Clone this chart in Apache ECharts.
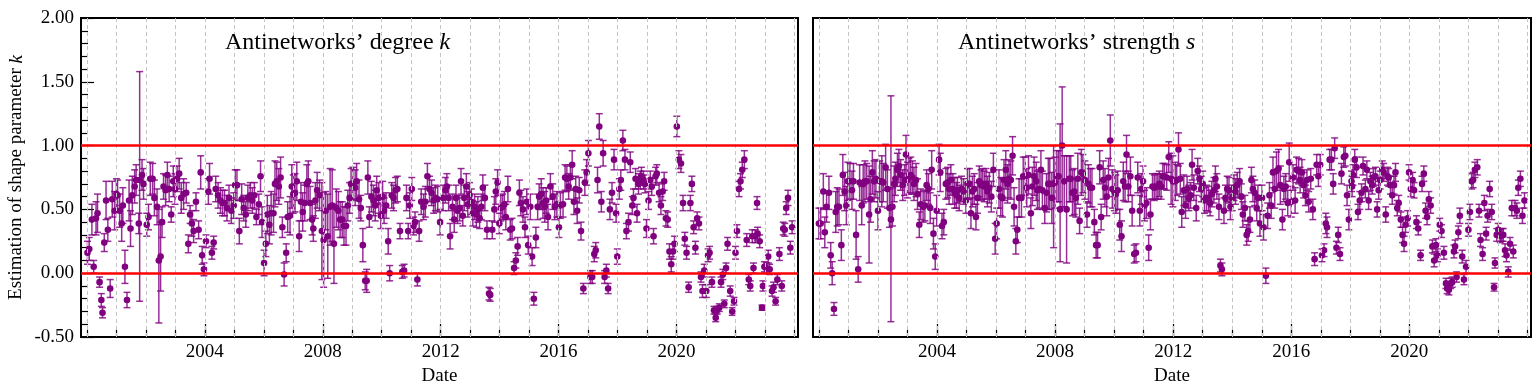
<!DOCTYPE html>
<html><head><meta charset="utf-8">
<script src="https://cdn.jsdelivr.net/npm/echarts@6/dist/echarts.min.js"></script>
<style>html,body{margin:0;padding:0;background:#fff}#c{width:1536px;height:387px}</style>
</head><body><div id="c"></div>
<script>
// ---------- tick labels / categories ----------
const yearTicks = [2000,2001,2002,2003,2004,2005,2006,2007,2008,2009,2010,2011,2012,2013,2014,2015,2016,2017,2018,2019,2020,2021,2022,2023,2024];
const labelYears = [2004,2008,2012,2016,2020];
const refLines = [0, 1];
const panelTitles = ['Antinetworks\u2019 degree ', 'Antinetworks\u2019 strength '];
const panelVars = ['k', 's'];

// ---------- left panel: antinetworks' degree k ----------
const degT = [
2000.02,2000.08,2000.17,2000.23,2000.31,2000.36,2000.43,2000.49,2000.53,2000.59,2000.65,2000.71,2000.79,2000.86,2000.94,
2001.00,2001.04,2001.11,2001.18,2001.22,2001.29,2001.36,2001.43,2001.48,2001.54,2001.62,2001.67,2001.76,2001.79,2001.87,2001.92,
2002.03,2002.09,2002.15,2002.23,2002.29,2002.38,2002.44,2002.50,2002.55,2002.60,2002.67,2002.73,2002.79,2002.86,2002.93,2002.99,
2003.06,2003.13,2003.20,2003.28,2003.37,2003.44,2003.50,2003.56,2003.62,2003.70,2003.79,2003.86,2003.91,2003.97,
2004.04,2004.12,2004.16,2004.24,2004.30,2004.37,2004.45,2004.53,2004.60,2004.67,2004.75,2004.82,2004.90,2004.98,
2005.03,2005.09,2005.17,2005.25,2005.32,2005.39,2005.46,2005.54,2005.61,2005.68,2005.75,2005.83,2005.89,2005.94,
2006.01,2006.07,2006.12,2006.19,2006.25,2006.33,2006.38,2006.44,2006.51,2006.57,2006.63,2006.69,2006.76,2006.81,2006.89,2006.95,
2007.00,2007.06,2007.12,2007.20,2007.26,2007.32,2007.39,2007.46,2007.51,2007.57,2007.64,2007.68,2007.75,2007.81,2007.89,2007.97,
2008.03,2008.10,2008.17,2008.25,2008.32,2008.38,2008.46,2008.53,2008.59,2008.66,2008.72,2008.79,2008.85,2008.91,2008.96,
2009.02,2009.10,2009.15,2009.23,2009.29,2009.36,2009.44,2009.49,2009.53,2009.58,2009.65,2009.72,2009.78,2009.83,2009.90,2009.97,
2010.03,2010.08,2010.15,2010.22,2010.27,2010.34,2010.40,2010.47,2010.53,2010.62,2010.70,2010.76,2010.84,2010.90,2010.95,
2011.02,2011.08,2011.13,2011.21,2011.27,2011.34,2011.42,2011.48,2011.55,2011.62,2011.69,2011.76,2011.82,2011.90,2011.98,
2012.08,2012.16,2012.21,2012.27,2012.32,2012.40,2012.46,2012.52,2012.57,2012.64,2012.69,2012.75,2012.80,2012.87,2012.92,2012.98,
2013.04,2013.09,2013.15,2013.21,2013.26,2013.32,2013.38,2013.43,2013.50,2013.57,2013.64,2013.68,2013.75,2013.82,2013.87,2013.93,2013.99,
2014.04,2014.10,2014.16,2014.21,2014.28,2014.36,2014.42,2014.49,2014.55,2014.61,2014.67,2014.72,2014.79,2014.86,2014.92,2014.97,
2015.04,2015.10,2015.16,2015.23,2015.29,2015.34,2015.41,2015.47,2015.53,2015.58,2015.64,2015.72,2015.80,2015.87,2015.94,
2016.01,2016.06,2016.15,2016.22,2016.28,2016.34,2016.40,2016.46,2016.52,2016.58,2016.63,2016.70,2016.76,2016.84,2016.89,2016.95,
2017.01,2017.08,2017.14,2017.21,2017.26,2017.32,2017.38,2017.45,2017.51,2017.56,2017.62,2017.68,2017.74,2017.81,2017.88,2017.95,2017.99,
2018.06,2018.11,2018.18,2018.25,2018.30,2018.37,2018.43,2018.50,2018.54,2018.61,2018.66,2018.71,2018.77,2018.81,2018.88,2018.93,2018.98,
2019.05,2019.11,2019.16,2019.22,2019.29,2019.33,2019.41,2019.47,2019.53,2019.58,2019.64,2019.70,2019.76,2019.82,2019.88,2019.93,
2020.01,2020.08,2020.15,2020.22,2020.28,2020.34,2020.41,2020.47,2020.52,2020.58,2020.64,2020.70,2020.76,2020.83,2020.88,2020.94,
2021.01,2021.07,2021.12,2021.20,2021.27,2021.33,2021.38,2021.45,2021.51,2021.57,2021.62,2021.68,2021.73,2021.82,2021.89,2021.95,
2022.00,2022.05,2022.12,2022.17,2022.23,2022.30,2022.38,2022.45,2022.50,2022.57,2022.61,2022.67,2022.73,2022.75,2022.82,2022.90,2022.93,2022.98,
2023.05,2023.11,2023.16,2023.24,2023.29,2023.36,2023.42,2023.49,2023.57,2023.62,2023.67,2023.72,2023.78,2023.86,2023.92
];
const degK = [
0.16,0.19,0.42,0.05,0.43,0.47,-0.07,-0.21,-0.31,0.24,0.57,0.34,-0.12,0.58,0.49,
0.62,0.61,0.49,0.39,0.53,0.05,-0.21,0.57,0.35,0.61,0.68,0.73,0.39,0.73,0.77,0.70,
0.38,0.44,0.74,0.74,0.59,0.52,0.10,0.13,0.40,0.68,0.65,0.77,0.66,0.46,0.72,0.66,
0.74,0.78,0.59,0.62,0.63,0.23,0.46,0.39,0.33,0.56,0.34,0.79,0.14,0.03,
0.25,0.64,0.74,0.16,0.24,0.66,0.61,0.57,0.55,0.55,0.51,0.59,0.49,0.53,
0.69,0.69,0.33,0.58,0.51,0.46,0.59,0.61,0.57,0.61,0.44,0.54,0.76,0.40,
0.08,0.23,0.46,0.38,0.47,0.47,0.70,0.72,0.68,0.75,0.36,-0.01,0.16,0.44,0.45,0.68,
0.62,0.63,0.72,0.29,0.56,0.48,0.55,0.70,0.72,0.55,0.42,0.35,0.57,0.65,0.61,0.33,
0.26,0.49,0.29,0.52,0.53,0.23,0.51,0.49,0.42,0.42,0.37,0.37,0.53,0.59,0.70,
0.70,0.67,0.72,0.58,0.51,0.22,-0.06,-0.06,0.75,0.44,0.60,0.57,0.53,0.65,0.59,0.45,
0.60,0.49,0.53,0.25,0.00,0.61,0.59,0.65,0.66,0.33,0.01,0.02,0.59,0.33,0.53,
0.66,0.37,0.40,-0.05,0.33,0.56,0.52,0.56,0.76,0.66,0.63,0.57,0.59,0.58,0.40,
0.59,0.65,0.68,0.59,0.29,0.52,0.42,0.59,0.49,0.51,0.72,0.45,0.59,0.68,0.54,0.61,
0.56,0.47,0.52,0.46,0.50,0.43,0.52,0.67,0.59,0.34,-0.16,-0.17,0.34,0.50,0.64,0.71,0.39,
0.51,0.52,0.54,0.44,0.66,0.34,0.35,0.04,0.10,0.21,0.63,0.55,0.50,0.36,0.56,0.22,
0.52,0.13,-0.20,0.28,0.52,0.60,0.62,0.55,0.52,0.57,0.44,0.68,0.60,0.52,0.54,
0.36,0.53,0.54,0.75,0.74,0.68,0.75,0.85,0.56,0.66,0.49,0.65,0.33,-0.12,0.71,0.79,
0.94,-0.03,-0.03,0.15,0.18,0.73,1.15,0.56,0.94,-0.03,0.02,-0.12,0.50,0.63,0.89,0.47,0.13,
0.66,0.73,1.04,0.89,0.33,0.40,0.87,0.53,0.59,0.74,0.47,0.70,0.73,0.76,0.73,0.70,0.35,
0.57,0.73,0.68,0.29,0.76,0.78,0.63,0.53,0.64,0.72,0.43,0.42,0.17,0.07,0.17,0.23,
1.15,0.89,0.86,0.55,0.27,0.16,-0.11,0.55,0.70,0.36,0.20,0.43,0.39,-0.03,-0.14,0.02,
-0.14,0.14,0.16,-0.07,-0.29,-0.35,-0.29,-0.27,-0.07,-0.01,-0.24,0.04,0.23,-0.14,-0.30,-0.22,
0.16,0.33,0.66,0.72,0.81,0.89,0.26,-0.05,-0.10,0.29,0.04,0.29,0.55,0.31,0.25,-0.27,-0.10,0.05,
0.04,0.13,0.03,-0.14,-0.11,-0.22,-0.05,0.15,-0.10,0.35,0.34,0.51,0.59,0.20,0.36
];
// error half-widths; [lower, upper] where asymmetric
const degErr = [
0.09,0.09,0.12,0.05,0.13,0.15,0.04,0.05,0.04,0.07,0.15,0.09,0.07,0.14,0.15,
0.12,0.12,0.13,0.14,0.14,0.13,0.06,0.16,0.14,0.15,0.13,0.12,0.08,[0.95,0.85],0.12,0.12,
0.09,0.1,0.13,0.12,0.14,0.14,[0.49,0.4],0.27,0.12,0.1,0.12,0.1,0.1,0.06,0.12,0.12,
0.1,0.12,0.12,0.12,0.08,0.07,0.07,0.1,0.09,0.07,0.07,0.13,0.07,0.05,
0.05,0.1,0.12,0.05,0.05,0.1,0.1,0.1,0.1,0.1,0.1,0.1,0.1,0.1,
0.12,0.12,0.1,0.12,0.1,0.1,0.1,0.1,0.1,0.1,0.06,0.08,0.12,0.12,
0.1,0.1,0.15,0.15,0.17,0.15,0.18,0.15,0.14,0.16,0.08,0.09,0.07,0.12,0.15,0.17,
0.15,0.15,0.15,0.12,0.15,0.15,0.14,0.15,0.16,0.13,0.12,0.1,0.14,0.14,0.12,0.38,
0.37,0.15,0.33,0.3,0.28,0.31,0.15,0.15,0.14,0.14,0.15,0.15,0.12,0.12,0.12,
0.13,0.14,0.14,0.15,0.1,0.13,0.07,0.09,0.13,0.08,0.12,0.12,0.12,0.11,0.12,0.1,
0.12,0.1,0.1,0.1,0.06,0.1,0.1,0.1,0.1,0.06,0.05,0.05,0.1,0.06,0.1,
0.09,0.07,0.08,0.05,0.08,0.1,0.1,0.12,0.1,0.1,0.1,0.1,0.1,0.1,0.1,
0.1,0.1,0.1,0.1,0.1,0.1,0.1,0.1,0.1,0.1,0.1,0.08,0.1,0.1,0.1,0.1,
0.1,0.1,0.1,0.1,0.1,0.08,0.1,0.1,0.1,0.07,0.05,0.05,0.07,0.1,0.1,0.1,0.08,
0.1,0.1,0.1,0.1,0.1,0.08,0.08,0.05,0.06,0.07,0.1,0.1,0.1,0.08,0.1,0.07,
0.1,0.07,0.05,0.08,0.1,0.1,0.12,0.12,0.12,0.1,0.1,0.1,0.1,0.1,0.1,
0.08,0.1,0.1,0.1,0.1,0.1,0.1,0.11,0.1,0.1,0.1,0.1,0.07,0.04,0.1,0.1,
0.1,0.05,0.05,0.06,0.06,0.1,0.1,0.08,0.1,0.05,0.05,0.04,0.08,0.08,0.08,0.07,0.06,
0.08,0.08,0.08,0.08,0.06,0.07,0.08,0.07,0.07,0.08,0.07,0.08,0.07,0.07,0.07,0.07,0.07,
0.07,0.07,0.07,0.06,0.07,0.07,0.07,0.07,0.07,0.07,0.06,0.06,0.06,0.06,0.06,0.06,
0.08,0.07,0.07,0.06,0.05,0.05,0.04,0.06,0.06,0.05,0.05,0.05,0.05,0.04,0.05,0.05,
0.05,0.05,0.05,0.04,0.03,0.03,0.03,0.03,0.04,0.04,0.03,0.04,0.05,0.04,0.03,0.03,
0.05,0.05,0.06,0.06,0.06,0.07,0.05,0.04,0.04,0.05,0.04,0.05,0.05,0.05,0.05,0.02,0.04,0.04,
0.04,0.05,0.04,0.04,0.04,0.03,0.04,0.05,0.04,0.05,0.05,0.05,0.06,0.05,0.05
];

// ---------- right panel: antinetworks' strength s ----------
const strT = [
2000.00,2000.06,2000.15,2000.20,2000.26,2000.34,2000.40,2000.45,2000.51,2000.57,2000.62,2000.68,2000.76,2000.81,2000.87,2000.93,2000.98,
2001.05,2001.12,2001.17,2001.26,2001.33,2001.38,2001.45,2001.50,2001.56,2001.62,2001.70,2001.75,2001.81,2001.87,2001.93,
2002.00,2002.06,2002.13,2002.18,2002.26,2002.32,2002.39,2002.44,2002.49,2002.55,2002.59,2002.66,2002.71,2002.77,2002.84,2002.90,2002.95,
2003.00,2003.05,2003.11,2003.17,2003.22,2003.29,2003.34,2003.40,2003.45,2003.53,2003.59,2003.65,2003.71,2003.77,2003.82,2003.88,2003.94,2003.99,
2004.07,2004.11,2004.17,2004.23,2004.30,2004.36,2004.41,2004.47,2004.54,2004.60,2004.66,2004.69,2004.75,2004.83,2004.90,2004.98,
2005.03,2005.10,2005.15,2005.20,2005.26,2005.32,2005.37,2005.43,2005.49,2005.54,2005.60,2005.66,2005.71,2005.77,2005.84,2005.91,2005.97,
2006.02,2006.10,2006.16,2006.22,2006.27,2006.33,2006.39,2006.44,2006.50,2006.56,2006.61,2006.67,2006.72,2006.78,2006.86,2006.92,2006.99,
2007.04,2007.10,2007.18,2007.23,2007.29,2007.36,2007.40,2007.46,2007.52,2007.57,2007.65,2007.71,2007.77,2007.82,2007.89,2007.95,
2008.00,2008.06,2008.12,2008.17,2008.24,2008.31,2008.39,2008.48,2008.53,2008.59,2008.65,2008.70,2008.77,2008.83,2008.89,2008.94,
2009.01,2009.08,2009.13,2009.19,2009.25,2009.33,2009.39,2009.44,2009.51,2009.56,2009.63,2009.69,2009.75,2009.81,2009.87,2009.94,
2010.01,2010.06,2010.12,2010.19,2010.25,2010.31,2010.37,2010.42,2010.48,2010.55,2010.61,2010.68,2010.74,2010.80,2010.87,2010.92,2010.98,
2011.03,2011.09,2011.17,2011.23,2011.30,2011.36,2011.42,2011.48,2011.53,2011.59,2011.65,2011.70,2011.78,2011.85,2011.93,2011.99,
2012.07,2012.12,2012.18,2012.24,2012.29,2012.36,2012.42,2012.47,2012.53,2012.59,2012.64,2012.70,2012.78,2012.83,2012.89,2012.95,
2013.00,2013.06,2013.13,2013.20,2013.25,2013.31,2013.38,2013.43,2013.48,2013.55,2013.60,2013.65,2013.72,2013.77,2013.83,2013.89,2013.94,
2014.00,2014.06,2014.11,2014.17,2014.25,2014.31,2014.36,2014.43,2014.49,2014.54,2014.60,2014.65,2014.70,2014.76,2014.83,2014.87,2014.94,
2015.01,2015.06,2015.14,2015.20,2015.26,2015.32,2015.38,2015.44,2015.50,2015.57,2015.63,2015.70,2015.75,2015.81,2015.88,2015.93,
2016.00,2016.06,2016.13,2016.18,2016.25,2016.30,2016.36,2016.42,2016.48,2016.53,2016.59,2016.66,2016.73,2016.79,2016.86,2016.92,2016.98,
2017.04,2017.11,2017.17,2017.21,2017.30,2017.36,2017.42,2017.47,2017.53,2017.59,2017.65,2017.70,2017.78,2017.83,2017.89,2017.95,
2018.04,2018.06,2018.09,2018.15,2018.21,2018.26,2018.32,2018.38,2018.43,2018.51,2018.56,2018.62,2018.68,2018.74,2018.78,2018.85,2018.91,2018.96,
2019.01,2019.08,2019.13,2019.20,2019.26,2019.30,2019.36,2019.42,2019.48,2019.53,2019.59,2019.64,2019.71,2019.77,2019.82,2019.87,2019.94,2019.99,
2020.05,2020.11,2020.16,2020.24,2020.30,2020.38,2020.43,2020.49,2020.55,2020.60,2020.66,2020.72,2020.78,2020.84,2020.90,2020.95,
2021.03,2021.09,2021.17,2021.24,2021.28,2021.34,2021.40,2021.45,2021.51,2021.55,2021.60,2021.66,2021.71,2021.79,2021.85,2021.92,
2022.00,2022.05,2022.11,2022.16,2022.22,2022.30,2022.36,2022.41,2022.48,2022.54,2022.60,2022.65,2022.72,2022.79,2022.87,2022.90,2022.96,
2023.01,2023.08,2023.13,2023.18,2023.24,2023.29,2023.35,2023.41,2023.47,2023.52,2023.58,2023.64,2023.69,2023.76,2023.83,2023.90
];
const strS = [
0.39,0.39,0.64,0.32,0.52,0.63,0.14,0.00,-0.28,0.48,0.52,0.52,0.22,0.77,0.64,0.53,0.72,
0.72,0.65,0.72,0.30,0.03,0.71,0.53,0.70,0.72,0.72,0.46,0.58,0.79,0.72,0.74,
0.49,0.72,0.72,0.71,0.83,0.66,0.51,0.42,0.52,0.70,0.74,0.81,0.84,0.77,0.69,0.73,0.93,
0.73,0.76,0.77,0.75,0.70,0.73,0.62,0.38,0.54,0.52,0.53,0.69,0.66,0.51,0.81,0.31,0.13,0.49,
0.89,0.79,0.37,0.40,0.70,0.71,0.66,0.73,0.66,0.63,0.61,0.65,0.59,0.66,0.64,0.57,
0.70,0.70,0.47,0.64,0.66,0.44,0.59,0.72,0.69,0.70,0.68,0.70,0.64,0.67,0.60,0.81,0.27,
0.39,0.66,0.60,0.59,0.73,0.81,0.70,0.74,0.73,0.92,0.52,0.25,0.34,0.59,0.59,0.76,0.76,
0.67,0.77,0.47,0.68,0.76,0.72,0.65,0.66,0.81,0.65,0.51,0.63,0.70,0.70,0.59,0.70,
0.71,0.76,0.76,0.50,1.00,0.72,0.50,0.74,0.74,0.63,0.64,0.59,0.74,0.41,0.79,0.78,
0.73,0.46,0.70,0.67,0.67,0.40,0.22,0.22,0.83,0.44,0.73,0.67,0.60,0.75,1.04,0.66,
0.64,0.62,0.65,0.38,0.29,0.72,0.68,0.93,0.68,0.76,0.49,0.15,0.16,0.75,0.49,0.66,0.72,
0.53,0.55,0.20,0.46,0.68,0.67,0.68,0.68,0.70,0.68,0.76,0.76,0.75,0.91,0.74,0.72,
0.72,0.73,0.97,0.74,0.48,0.65,0.53,0.66,0.59,0.61,0.85,0.67,0.51,0.80,0.74,0.66,
0.70,0.57,0.59,0.58,0.55,0.62,0.65,0.74,0.68,0.52,0.06,0.03,0.49,0.59,0.66,0.65,0.52,
0.59,0.67,0.64,0.69,0.72,0.60,0.46,0.51,0.30,0.33,0.42,0.73,0.66,0.63,0.51,0.59,0.39,
0.59,0.36,-0.02,0.45,0.61,0.53,0.79,0.66,0.80,0.82,0.69,0.42,0.66,0.68,0.55,0.87,
0.56,0.75,0.57,0.81,0.80,0.73,0.79,0.69,0.61,0.73,0.56,0.74,0.50,0.11,0.85,0.76,0.85,
0.14,0.18,0.39,0.36,0.89,0.89,0.70,0.98,0.20,0.30,0.15,0.78,0.91,0.92,0.61,0.42,
0.72,0.68,0.77,0.89,0.83,0.48,0.57,0.63,0.84,0.66,0.81,0.57,0.72,0.69,0.75,0.76,0.50,0.65,
0.73,0.81,0.79,0.46,0.76,0.75,0.69,0.61,0.69,0.79,0.51,0.55,0.42,0.30,0.23,0.38,0.43,0.79,
0.66,0.73,0.65,0.40,0.35,0.14,0.70,0.78,0.49,0.44,0.58,0.53,0.21,0.10,0.22,0.14,
0.38,0.33,0.16,-0.08,-0.12,-0.13,-0.08,-0.07,0.17,0.21,-0.03,0.32,0.45,0.13,-0.05,0.05,
0.34,0.48,0.72,0.73,0.81,0.83,0.49,0.26,0.15,0.55,0.31,0.45,0.66,0.48,-0.11,0.08,0.30,
0.34,0.29,0.30,0.30,0.18,0.14,0.01,0.23,0.51,0.17,0.51,0.49,0.67,0.74,0.45,0.57
];
const strErr = [
0.12,0.12,0.14,0.12,0.12,0.13,0.1,0.09,0.05,0.16,0.15,0.14,0.12,0.16,0.15,0.15,0.15,
0.14,0.15,0.14,0.19,0.1,0.14,0.15,0.15,0.16,0.14,0.38,0.18,0.17,0.16,0.15,
0.15,0.16,0.2,0.15,0.18,0.15,0.15,[0.8,0.97],0.15,0.14,0.13,0.13,0.13,0.12,0.12,0.12,0.15,
0.14,0.14,0.14,0.13,0.13,0.13,0.12,0.1,0.12,0.12,0.12,0.12,0.12,0.12,0.15,0.12,0.1,0.12,
0.12,0.15,0.1,0.1,0.12,0.12,0.12,0.12,0.12,0.12,0.1,0.1,0.1,0.1,0.1,0.1,
0.12,0.12,0.12,0.12,0.12,0.1,0.12,0.12,0.12,0.12,0.12,0.12,0.12,0.12,0.12,0.13,0.12,
0.12,0.15,0.15,0.15,0.16,0.15,0.15,0.15,0.15,0.15,0.15,0.1,0.1,0.15,0.15,0.15,0.15,
0.15,0.15,0.12,0.15,0.15,0.15,0.15,0.15,0.15,0.15,0.12,0.15,0.2,0.2,0.2,[0.5,0.3],
0.2,0.2,0.2,[0.41,0.67],[0.48,0.46],0.2,0.42,0.18,0.18,0.18,0.18,0.15,0.2,0.1,0.18,0.15,
0.15,0.1,0.15,0.15,0.15,0.1,0.1,0.1,0.13,0.1,0.15,0.15,0.15,0.15,0.2,0.15,
0.15,0.15,0.15,0.12,0.12,0.15,0.12,0.15,0.12,0.15,0.12,0.07,0.07,0.12,0.12,0.12,0.12,
0.12,0.12,0.1,0.12,0.1,0.1,0.1,0.1,0.1,0.1,0.1,0.1,0.1,0.12,0.2,0.2,
0.15,0.12,0.13,0.12,0.12,0.12,0.1,0.1,0.1,0.1,0.12,0.1,0.1,0.1,0.1,0.1,
0.1,0.1,0.1,0.1,0.1,0.1,0.1,0.1,0.1,0.1,0.05,0.05,0.1,0.1,0.1,0.1,0.1,
0.1,0.1,0.1,0.1,0.1,0.1,0.1,0.1,0.08,0.08,0.1,0.1,0.1,0.1,0.1,0.1,0.1,
0.1,0.1,0.06,0.1,0.1,0.1,0.12,0.15,0.15,0.15,0.15,0.08,0.1,0.1,0.1,0.15,
0.12,0.1,0.1,0.1,0.1,0.1,0.1,0.1,0.08,0.08,0.08,0.08,0.08,0.05,0.08,0.08,0.08,
0.05,0.05,0.08,0.08,0.08,0.08,0.08,0.08,0.05,0.06,0.05,0.08,0.08,0.08,0.08,0.08,
0.08,0.08,0.08,0.08,0.08,0.06,0.07,0.07,0.07,0.07,0.07,0.07,0.07,0.07,0.07,0.07,0.06,0.07,
0.07,0.07,0.07,0.06,0.07,0.07,0.07,0.07,0.07,0.07,0.06,0.06,0.06,0.06,0.06,0.06,0.06,0.06,
0.06,0.06,0.06,0.05,0.05,0.04,0.06,0.06,0.06,0.06,0.06,0.06,0.05,0.05,0.05,0.05,
0.05,0.05,0.05,0.04,0.04,0.04,0.04,0.04,0.05,0.05,0.04,0.05,0.06,0.05,0.04,0.05,
0.05,0.06,0.06,0.06,0.06,0.06,0.05,0.05,0.05,0.06,0.05,0.05,0.06,0.06,0.03,0.04,0.05,
0.05,0.05,0.05,0.05,0.05,0.05,0.04,0.05,0.06,0.05,0.06,0.06,0.06,0.06,0.06,0.06
];

// ---------- build ----------
const FONT = 'Liberation Serif';
const PURPLE = '#800080';
const X_MIN = 1999.8, X_MAX = 2024.12;

function toRows(t, v, e) {
  const n = Math.min(t.length, v.length, e.length);
  const rows = [];
  for (let i = 0; i < n; i++) {
    const er = e[i];
    const lo = Array.isArray(er) ? er[0] : er;
    const hi = Array.isArray(er) ? er[1] : er;
    rows.push([t[i], v[i], lo, hi]);
  }
  return rows;
}

function renderItem(params, api) {
  const x = api.value(0), y = api.value(1), lo = api.value(2), hi = api.value(3);
  const p = api.coord([x, y]);
  const pl = api.coord([x, y - lo]);
  const ph = api.coord([x, y + hi]);
  const cw = 3.5;
  const bs = { stroke: 'rgba(128,0,128,0.82)', lineWidth: 1.5 };
  return {
    type: 'group',
    children: [
      { type: 'line', shape: { x1: p[0], y1: ph[1], x2: p[0], y2: pl[1] }, style: bs },
      { type: 'line', shape: { x1: p[0] - cw, y1: ph[1], x2: p[0] + cw, y2: ph[1] }, style: bs },
      { type: 'line', shape: { x1: p[0] - cw, y1: pl[1], x2: p[0] + cw, y2: pl[1] }, style: bs },
      { type: 'circle', shape: { cx: p[0], cy: p[1], r: 3.3 }, style: { fill: PURPLE } }
    ]
  };
}

const grids = [
  { left: 81, top: 18, width: 717, height: 319, show: true, borderColor: '#000', borderWidth: 2, backgroundColor: 'transparent', containLabel: false, outerBoundsMode: 'none' },
  { left: 813, top: 18, width: 718, height: 319, show: true, borderColor: '#000', borderWidth: 2, backgroundColor: 'transparent', containLabel: false, outerBoundsMode: 'none' }
];

const xAxes = [], yAxes = [], series = [], titles = [];
const panelRows = [toRows(degT, degK, degErr), toRows(strT, strS, strErr)];

for (let g = 0; g < 2; g++) {
  // main x axis: labels + long ticks
  xAxes.push({
    type: 'value', gridIndex: g, min: X_MIN, max: X_MAX, position: 'bottom',
    axisLine: { show: true, onZero: false, lineStyle: { color: '#000', width: 2 } },
    axisTick: { show: true, inside: true, length: 13, customValues: labelYears, lineStyle: { color: '#000', width: 1.2 } },
    axisLabel: { show: true, customValues: labelYears, formatter: v => String(Math.round(v)), fontFamily: FONT, fontSize: 19, color: '#000', margin: 6 },
    splitLine: { show: false },
    name: 'Date', nameLocation: 'middle', nameGap: 29,
    nameTextStyle: { fontFamily: FONT, fontSize: 19, color: '#000' }
  });
  // auxiliary x axis: short yearly ticks
  xAxes.push({
    type: 'value', gridIndex: g, min: X_MIN, max: X_MAX, position: 'bottom',
    axisLine: { show: false, onZero: false },
    axisTick: { show: true, inside: true, length: 7, customValues: yearTicks, lineStyle: { color: '#000', width: 1.2 } },
    axisLabel: { show: false },
    splitLine: { show: false }
  });
  yAxes.push({
    type: 'value', gridIndex: g, min: -0.5, max: 2, interval: 0.5,
    axisLine: { show: true, onZero: false, lineStyle: { color: '#000', width: 2 } },
    axisTick: { show: g === 0, inside: true, length: 13, lineStyle: { color: '#000', width: 1.2 } },
    minorTick: { show: g === 0, splitNumber: 5, length: 7, lineStyle: { color: '#000', width: 1.2 } },
    axisLabel: { show: g === 0, formatter: v => v.toFixed(2), fontFamily: FONT, fontSize: 19, color: '#000', margin: 7 },
    splitLine: { show: false },
    minorSplitLine: { show: false },
    name: g === 0 ? '{a|Estimation of shape parameter }{b|k}' : '',
    nameLocation: 'middle', nameGap: 55,
    nameTextStyle: {
      rich: {
        a: { fontFamily: FONT, fontSize: 19, color: '#000', fontWeight: 'normal' },
        b: { fontFamily: FONT, fontSize: 19, color: '#000', fontStyle: 'italic', fontWeight: 'normal' }
      }
    }
  });
  const xi = g * 2;
  // dashed yearly grid lines
  series.push({
    type: 'line', xAxisIndex: xi, yAxisIndex: g, data: [], z: 1, silent: true,
    markLine: {
      silent: true, symbol: ['none', 'none'], animation: false,
      label: { show: false },
      lineStyle: { color: '#c4c4c4', type: [4, 3], width: 1 },
      data: yearTicks.map(v => ({ xAxis: v }))
    }
  });
  // red reference lines at 0 and 1
  series.push({
    type: 'line', xAxisIndex: xi, yAxisIndex: g, data: [], z: 2, silent: true,
    markLine: {
      silent: true, symbol: ['none', 'none'], animation: false,
      label: { show: false },
      lineStyle: { color: '#ff0000', type: 'solid', width: 2.6 },
      data: refLines.map(v => ({ yAxis: v }))
    }
  });
  // points with error bars
  series.push({
    type: 'custom', xAxisIndex: xi, yAxisIndex: g, z: 3,
    renderItem: renderItem,
    encode: { x: 0, y: 1 },
    data: panelRows[g],
    animation: false
  });
  titles.push({
    text: '{a|' + panelTitles[g] + '}{b|' + panelVars[g] + '}',
    left: g === 0 ? 225 : 958, top: 31, padding: 0,
    textStyle: {
      fontWeight: 'normal',
      rich: {
        a: { fontFamily: FONT, fontSize: 24, color: '#000', fontWeight: 'normal' },
        b: { fontFamily: FONT, fontSize: 24, color: '#000', fontStyle: 'italic', fontWeight: 'normal' }
      }
    }
  });
}

const chart = echarts.init(document.getElementById('c'), null, { renderer: 'canvas', width: 1536, height: 387 });
chart.setOption({
  animation: false,
  backgroundColor: '#fff',
  title: titles,
  grid: grids,
  xAxis: xAxes,
  yAxis: yAxes,
  series: series
});
</script>
</body></html>
